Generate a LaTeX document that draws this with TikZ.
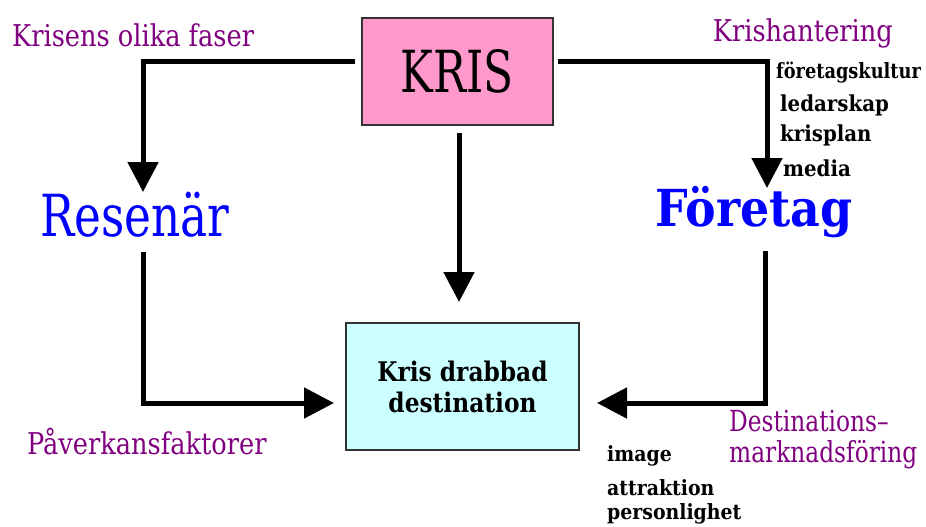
\documentclass[tikz,border=0pt]{standalone}
\usepackage{fontspec}
\setmainfont{DejaVu Serif Condensed}
\usetikzlibrary{arrows.meta}
\definecolor{kpink}{HTML}{FF99CC}
\definecolor{kcyan}{HTML}{CCFFFF}
\definecolor{kpurple}{HTML}{800080}
\definecolor{kblue}{HTML}{0000FF}
\begin{document}
\begin{tikzpicture}[x=1pt,y=-1pt,
  conn/.style={line width=5pt,-{Triangle[width=30pt,length=30pt]}},
  boxs/.style={draw=black!80,line width=1.5pt,inner sep=0pt},
  plabel/.style={text=kpurple,font=\fontsize{30}{30}\selectfont,inner sep=0pt,xscale=0.95},
  slabel/.style={text=black,font=\bfseries\fontsize{21}{22}\selectfont,inner sep=0pt,anchor=west},
  big/.style={text=kblue,font=\fontsize{58}{60}\selectfont,inner sep=0pt}]
\useasboundingbox (0,0) rectangle (926,527);
% boxes
\node[boxs,fill=kpink,minimum width=191pt,minimum height=107pt] (kris) at (457.5,71.5) {};
\node[inner sep=0pt,font=\fontsize{58}{60}\selectfont,xscale=0.84] (kristxt) at (kris.center) {KRIS};
\node[boxs,fill=kcyan,minimum width=233pt,minimum height=127pt] (dest) at (462.5,386.5) {};
\node[inner sep=0pt,align=center,font=\bfseries\fontsize{27}{31}\selectfont,xscale=0.96] (desttxt) at (dest.center) {Kris drabbad\\destination};
% big labels
\node[big,xscale=0.87] (res) at (135,215) {Resenär};
\node[big,font=\bfseries\fontsize{51}{60}\selectfont] (foe) at (754,212) {Företag};
% corner coordinates
\coordinate (c1) at (143,62);
\coordinate (c2) at (767,62);
\coordinate (c3) at (143,403);
\coordinate (c4) at (765,403);
\coordinate (t1) at (143,192);
\coordinate (t2) at (767,188);
\coordinate (t3) at (459,302);
\coordinate (s3) at (459,133);
\coordinate (s4) at (143,252);
\coordinate (s5) at (765,251);
\coordinate (t4) at (334,403);
\coordinate (t5) at (597,403);
% connectors
\draw[conn] ([xshift=-6pt]kris.west |- c1) -- (c1) -- (t1);
\draw[conn] ([xshift=4pt]kris.east |- c2) -- (c2) -- (t2);
\draw[conn] (s3) -- (t3);
\draw[conn] (s4) -- (c3) -- (t4);
\draw[conn] (s5) -- (c4) -- (t5);
% purple labels
\node[plabel,anchor=west] (l1) at (12,35) {Krisens olika faser};
\node[plabel,anchor=east] (l2) at (893,33) {Krishantering};
\node[plabel,anchor=west] (l3) at (27,442) {Påverkansfaktorer};
\node[plabel,anchor=west,align=left,font=\fontsize{29}{31}\selectfont,xscale=0.94] (l4) at (729,440) {Destinations–\\marknadsföring};
% small labels
\node[slabel,xscale=0.94] (s1) at (776,73) {företagskultur};
\node[slabel,font=\bfseries\fontsize{22}{22}\selectfont] (s2) at (780,105) {ledarskap};
\node[slabel,font=\bfseries\fontsize{22}{22}\selectfont] (s3n) at (780,135) {krisplan};
\node[slabel,font=\bfseries\fontsize{22}{22}\selectfont] (s4n) at (783,168) {media};
\node[slabel] (i1) at (607,456) {image};
\node[slabel] (i2) at (607,488) {attraktion};
\node[slabel] (i3) at (607,514) {personlighet};
\end{tikzpicture}
\end{document}
